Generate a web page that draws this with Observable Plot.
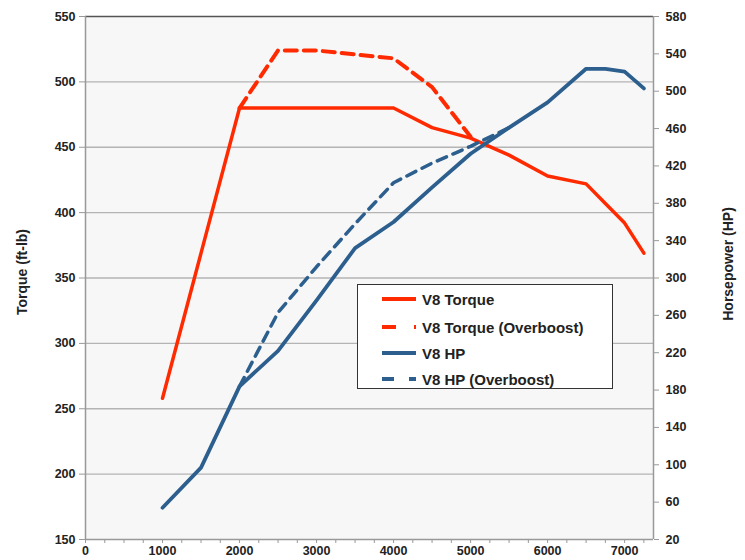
<!DOCTYPE html>
<html>
<head>
<meta charset="utf-8">
<script src="https://cdn.jsdelivr.net/npm/d3@7"></script>
<script src="https://cdn.jsdelivr.net/npm/@observablehq/plot@0.6"></script>
<style>
  html, body { margin: 0; padding: 0; background: #fff; }
  #wrap { position: relative; width: 745px; height: 560px; }
  #legend {
    position: absolute; left: 357px; top: 284px; width: 256px; height: 105px;
    border: 1.5px solid #333; background: #fff; box-sizing: border-box;
    font-family: "Liberation Sans", Arial, sans-serif; font-weight: bold; font-size: 15px; color: #222;
  }
  .row { position: absolute; left: 24px; height: 20px; display: flex; align-items: center; }
  .row svg { margin-right: 4px; }
</style>
</head>
<body>
<div id="wrap"></div>
<script>
// ---- data ----
const rpm      = [1000, 1500, 2000, 2500, 3000, 3500, 4000, 4500, 5000, 5500, 6000, 6500, 6750, 7000, 7250];
const torque   = [258, 369, 480, 480, 480, 480, 480, 465, 457, 444, 428, 422, 407, 392, 369];
const hp       = [54, 97, 184, 222, 276, 332, 360, 397, 433, 461, 488, 524, 524, 521, 503];

const rpmTorqueOB = [2000, 2500, 3000, 3500, 4000, 4500, 5000];
const torqueOB    = [480, 524, 524, 521, 518, 496, 458];

const rpmHpOB = [2000, 2500, 3000, 3500, 4000, 4500, 5000, 5500];
const hpOB    = [184, 263, 312, 358, 402, 423, 441, 461];

const torqueTicks = [150, 200, 250, 300, 350, 400, 450, 500, 550];
const hpTicks     = [20, 60, 100, 140, 180, 220, 260, 300, 340, 380, 420, 460, 500, 540, 580];
const rpmTicks    = [0, 1000, 2000, 3000, 4000, 5000, 6000, 7000];

const seriesNames = ["V8 Torque", "V8 Torque (Overboost)", "V8 HP", "V8 HP (Overboost)"];
const axisTitles  = ["Torque (ft-lb)", "Horsepower (HP)"];

// ---- mapping of HP onto the torque (left) scale ----
const T0 = 150, T1 = 550, H0 = 20, H1 = 580;
const hpToT = h => T0 + (h - H0) * (T1 - T0) / (H1 - H0);
const tToHp = t => H0 + (t - T0) * (H1 - H0) / (T1 - T0);

const RED = "#ff2a00", BLUE = "#2c5f8e";

const tq   = rpm.map((r, i) => ({rpm: r, v: torque[i]}));
const tqOB = rpmTorqueOB.map((r, i) => ({rpm: r, v: torqueOB[i]}));
const hpS  = rpm.map((r, i) => ({rpm: r, v: hpToT(hp[i])}));
const hpSOB = rpmHpOB.map((r, i) => ({rpm: r, v: hpToT(hpOB[i])}));

const minorX = d3.range(0, 7251, 250);

const chart = Plot.plot({
  width: 745, height: 560,
  marginLeft: 85, marginRight: 92, marginTop: 16, marginBottom: 21,
  style: {fontFamily: "'Liberation Sans', Arial, sans-serif", fontSize: "12.5px", fontWeight: "bold", color: "#222", background: "#fff"},
  x: {domain: [0, 7375]},
  y: {domain: [T0, T1]},
  marks: [
    Plot.frame({fill: "#f7f7f7", stroke: null}),
    Plot.ruleY(torqueTicks.filter(t => t > 150 && t < 550), {stroke: "#b4b4b4", strokeWidth: 1.3}),
    Plot.ruleY([550], {stroke: "#555", strokeWidth: 1.5}),
    Plot.ruleX([0, 7375], {stroke: "#999", strokeWidth: 1.5}),
    Plot.ruleY([150], {stroke: "#999", strokeWidth: 1.5}),
    Plot.axisY({ticks: torqueTicks, tickSize: 6, tickPadding: 4, stroke: "#999", label: null}),
    Plot.axisY({anchor: "right", ticks: hpTicks.map(hpToT), tickFormat: t => String(Math.round(tToHp(t))),
      tickSize: 5, tickPadding: 7, stroke: "#999", label: null}),
    Plot.axisX({ticks: minorX, tickFormat: d => rpmTicks.includes(d) ? String(d) : "", tickSize: 4, tickPadding: 3, stroke: "#999", label: null}),
    Plot.text([axisTitles[0]], {frameAnchor: "left", textAnchor: "middle", dx: -63, dy: -6, rotate: -90, fontSize: 14, fontWeight: "bold", fill: "#222"}),
    Plot.text([axisTitles[1]], {frameAnchor: "right", textAnchor: "middle", dx: 75, dy: -14, rotate: -90, fontSize: 14, fontWeight: "bold", fill: "#222"}),
    Plot.line(tq,   {x: "rpm", y: "v", stroke: RED, strokeWidth: 3.5}),
    Plot.line(tqOB, {x: "rpm", y: "v", stroke: RED, strokeWidth: 4, strokeDasharray: "12,7"}),
    Plot.line(hpS,  {x: "rpm", y: "v", stroke: BLUE, strokeWidth: 3.8}),
    Plot.line(hpSOB,{x: "rpm", y: "v", stroke: BLUE, strokeWidth: 3.5, strokeDasharray: "10,7"})
  ]
});

const wrap = document.getElementById("wrap");
wrap.appendChild(chart);

// ---- legend ----
const legend = document.createElement("div");
legend.id = "legend";
const styles = [
  {stroke: RED, dash: null},
  {stroke: RED, dash: "14,18"},
  {stroke: BLUE, dash: null},
  {stroke: BLUE, dash: "12,15"}
];
const rowTops = [4, 32, 58, 84];
seriesNames.forEach((name, i) => {
  const row = document.createElement("div");
  row.className = "row";
  row.style.top = rowTops[i] + "px";
  const s = styles[i];
  row.innerHTML = `<svg width="36" height="8"><line x1="0" y1="4" x2="34" y2="4" stroke="${s.stroke}" stroke-width="4" ${s.dash ? `stroke-dasharray="${s.dash}"` : ""}/></svg><span>${name}</span>`;
  legend.appendChild(row);
});
wrap.appendChild(legend);
</script>
</body>
</html>
